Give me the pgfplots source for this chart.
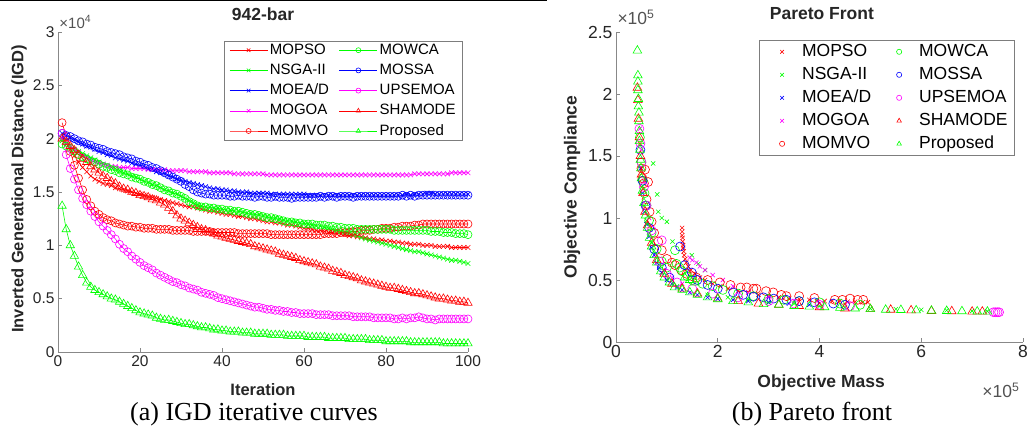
\documentclass[border=0pt]{standalone}
\usepackage{pgfplots}
\pgfplotsset{compat=1.18}
\usepackage{pgfplotstable}
\usepackage{fontspec}
\setmainfont{Liberation Sans}
\newfontfamily\capfont{Liberation Serif}

\definecolor{axgray}{rgb}{0.15,0.15,0.15}
\definecolor{cr}{rgb}{1,0,0}
\definecolor{cg}{rgb}{0,1,0}
\definecolor{cb}{rgb}{0,0,1}
\definecolor{cm}{rgb}{1,0,1}

% IGD (x 10^4) per iteration
\pgfplotstableread{
it  mopso nsga moead mogoa momvo mowca mossa upsemoa shamode prop
1   2.00 1.98 2.05 2.00 2.15 1.95 2.05 2.05 2.00 1.37
2   1.95 1.95 2.03 1.96 2.02 1.93 2.03 1.85 1.97 1.15
3   1.90 1.93 2.01 1.93 1.88 1.91 2.02 1.72 1.93 1.00
4   1.84 1.90 1.99 1.90 1.75 1.88 2.00 1.62 1.89 0.90
5   1.78 1.88 1.97 1.87 1.63 1.85 1.98 1.52 1.85 0.80
6   1.73 1.86 1.95 1.84 1.52 1.83 1.97 1.44 1.81 0.72
7   1.69 1.84 1.93 1.82 1.43 1.81 1.95 1.38 1.78 0.65
8   1.65 1.82 1.92 1.80 1.37 1.79 1.94 1.32 1.74 0.61
9   1.62 1.80 1.90 1.78 1.32 1.78 1.92 1.27 1.71 0.58
10  1.60 1.78 1.88 1.77 1.29 1.76 1.91 1.22 1.68 0.56
11  1.58 1.76 1.87 1.76 1.26 1.74 1.90 1.18 1.65 0.54
12  1.57 1.75 1.85 1.75 1.24 1.73 1.88 1.14 1.63 0.52
13  1.56 1.73 1.84 1.74 1.23 1.71 1.87 1.10 1.60 0.50
14  1.54 1.72 1.82 1.74 1.21 1.70 1.86 1.06 1.58 0.49
15  1.53 1.70 1.81 1.73 1.20 1.68 1.85 1.01 1.55 0.47
16  1.52 1.68 1.80 1.73 1.19 1.67 1.83 0.97 1.53 0.45
17  1.51 1.67 1.79 1.73 1.18 1.66 1.82 0.94 1.52 0.43
18  1.50 1.65 1.77 1.72 1.18 1.64 1.81 0.90 1.50 0.41
19  1.49 1.64 1.76 1.72 1.17 1.63 1.79 0.87 1.49 0.39
20  1.48 1.62 1.75 1.72 1.17 1.62 1.78 0.84 1.47 0.37
21  1.47 1.60 1.74 1.72 1.16 1.60 1.76 0.81 1.46 0.36
22  1.46 1.59 1.72 1.71 1.16 1.59 1.75 0.79 1.45 0.35
23  1.45 1.57 1.71 1.71 1.16 1.57 1.73 0.77 1.43 0.34
24  1.44 1.56 1.69 1.71 1.15 1.56 1.72 0.74 1.42 0.32
25  1.43 1.54 1.68 1.71 1.15 1.54 1.70 0.72 1.40 0.31
26  1.42 1.52 1.67 1.71 1.15 1.52 1.68 0.70 1.38 0.30
27  1.41 1.51 1.65 1.70 1.15 1.51 1.66 0.68 1.35 0.30
28  1.40 1.49 1.64 1.70 1.14 1.49 1.64 0.66 1.32 0.29
29  1.39 1.48 1.62 1.70 1.14 1.48 1.62 0.65 1.28 0.28
30  1.38 1.46 1.61 1.70 1.14 1.46 1.60 0.63 1.25 0.27
31  1.37 1.44 1.60 1.70 1.14 1.44 1.57 0.62 1.23 0.26
32  1.36 1.42 1.59 1.69 1.14 1.41 1.55 0.60 1.21 0.26
33  1.36 1.40 1.58 1.69 1.13 1.39 1.52 0.59 1.19 0.25
34  1.35 1.38 1.57 1.69 1.13 1.37 1.50 0.58 1.17 0.24
35  1.34 1.37 1.56 1.69 1.13 1.36 1.49 0.56 1.15 0.23
36  1.33 1.36 1.55 1.69 1.13 1.36 1.48 0.55 1.14 0.23
37  1.32 1.36 1.54 1.68 1.13 1.35 1.48 0.54 1.12 0.22
38  1.32 1.35 1.53 1.68 1.12 1.35 1.47 0.53 1.11 0.21
39  1.31 1.35 1.53 1.68 1.12 1.34 1.47 0.51 1.09 0.21
40  1.30 1.34 1.52 1.68 1.12 1.34 1.47 0.50 1.08 0.20
41  1.29 1.33 1.52 1.68 1.12 1.33 1.47 0.49 1.07 0.20
42  1.29 1.33 1.51 1.68 1.12 1.33 1.46 0.48 1.06 0.19
43  1.28 1.32 1.51 1.67 1.12 1.32 1.46 0.47 1.05 0.19
44  1.27 1.32 1.50 1.67 1.11 1.32 1.47 0.46 1.04 0.19
45  1.27 1.31 1.50 1.67 1.11 1.31 1.46 0.45 1.03 0.18
46  1.26 1.30 1.50 1.67 1.11 1.30 1.46 0.44 1.02 0.18
47  1.25 1.30 1.49 1.67 1.11 1.29 1.46 0.43 1.01 0.18
48  1.25 1.29 1.49 1.67 1.11 1.29 1.45 0.42 0.99 0.17
49  1.24 1.29 1.49 1.67 1.11 1.28 1.46 0.42 0.98 0.17
50  1.23 1.28 1.49 1.67 1.11 1.27 1.46 0.41 0.97 0.17
51  1.22 1.27 1.49 1.66 1.11 1.26 1.45 0.40 0.96 0.17
52  1.22 1.26 1.48 1.66 1.10 1.26 1.45 0.40 0.95 0.16
53  1.21 1.26 1.48 1.66 1.10 1.25 1.46 0.39 0.94 0.16
54  1.21 1.25 1.48 1.66 1.10 1.24 1.45 0.39 0.92 0.16
55  1.20 1.24 1.48 1.66 1.10 1.23 1.45 0.38 0.91 0.16
56  1.19 1.23 1.48 1.66 1.10 1.22 1.45 0.38 0.90 0.15
57  1.19 1.23 1.48 1.66 1.10 1.22 1.44 0.37 0.89 0.15
58  1.18 1.22 1.48 1.66 1.10 1.21 1.45 0.37 0.88 0.15
59  1.17 1.21 1.48 1.66 1.10 1.21 1.45 0.36 0.86 0.15
60  1.16 1.21 1.48 1.66 1.10 1.20 1.45 0.36 0.85 0.15
61  1.16 1.20 1.47 1.66 1.10 1.20 1.45 0.36 0.84 0.14
62  1.15 1.19 1.47 1.66 1.10 1.20 1.45 0.36 0.83 0.14
63  1.14 1.18 1.47 1.66 1.10 1.19 1.45 0.35 0.82 0.14
64  1.14 1.18 1.47 1.66 1.10 1.19 1.46 0.35 0.80 0.14
65  1.13 1.17 1.47 1.66 1.11 1.19 1.45 0.35 0.79 0.14
66  1.12 1.16 1.47 1.66 1.11 1.18 1.46 0.35 0.78 0.13
67  1.12 1.15 1.47 1.66 1.11 1.18 1.46 0.34 0.76 0.13
68  1.11 1.14 1.47 1.66 1.11 1.17 1.45 0.34 0.75 0.13
69  1.11 1.13 1.47 1.66 1.12 1.17 1.46 0.34 0.74 0.13
70  1.10 1.12 1.47 1.66 1.12 1.16 1.46 0.34 0.72 0.13
71  1.09 1.11 1.47 1.66 1.12 1.16 1.46 0.34 0.71 0.12
72  1.09 1.10 1.47 1.66 1.13 1.16 1.45 0.33 0.70 0.12
73  1.08 1.09 1.47 1.66 1.13 1.15 1.46 0.33 0.69 0.12
74  1.08 1.07 1.47 1.66 1.14 1.15 1.46 0.33 0.67 0.12
75  1.07 1.06 1.47 1.66 1.14 1.15 1.46 0.33 0.66 0.12
76  1.06 1.05 1.47 1.66 1.14 1.15 1.46 0.33 0.65 0.11
77  1.06 1.04 1.47 1.66 1.15 1.15 1.46 0.32 0.64 0.11
78  1.05 1.03 1.47 1.66 1.15 1.15 1.46 0.32 0.63 0.11
79  1.05 1.02 1.47 1.66 1.16 1.15 1.46 0.32 0.62 0.11
80  1.04 1.01 1.47 1.66 1.16 1.15 1.46 0.32 0.61 0.10
81  1.04 1.00 1.47 1.66 1.16 1.15 1.46 0.32 0.60 0.10
82  1.03 0.99 1.47 1.66 1.17 1.14 1.46 0.31 0.60 0.10
83  1.03 0.98 1.47 1.66 1.17 1.14 1.46 0.31 0.59 0.10
84  1.02 0.97 1.47 1.66 1.18 1.14 1.47 0.32 0.58 0.10
85  1.02 0.96 1.48 1.66 1.18 1.14 1.46 0.31 0.57 0.10
86  1.01 0.95 1.47 1.66 1.18 1.14 1.47 0.32 0.56 0.09
87  1.01 0.94 1.48 1.67 1.19 1.14 1.46 0.32 0.55 0.09
88  1.01 0.94 1.48 1.67 1.19 1.14 1.47 0.33 0.55 0.09
89  1.00 0.93 1.48 1.67 1.20 1.14 1.47 0.32 0.54 0.09
90  1.00 0.92 1.49 1.67 1.20 1.14 1.47 0.31 0.53 0.09
91  1.00 0.91 1.49 1.67 1.20 1.13 1.47 0.31 0.52 0.09
92  0.99 0.90 1.48 1.67 1.20 1.13 1.47 0.30 0.51 0.09
93  0.99 0.89 1.48 1.67 1.20 1.13 1.47 0.31 0.50 0.09
94  0.99 0.88 1.48 1.67 1.20 1.12 1.47 0.31 0.50 0.08
95  0.99 0.87 1.48 1.67 1.20 1.12 1.47 0.31 0.49 0.08
96  0.98 0.86 1.48 1.68 1.20 1.12 1.47 0.31 0.48 0.08
97  0.98 0.86 1.48 1.68 1.20 1.11 1.47 0.31 0.48 0.08
98  0.98 0.85 1.48 1.68 1.20 1.11 1.47 0.31 0.47 0.08
99  0.98 0.84 1.48 1.68 1.20 1.11 1.47 0.31 0.47 0.08
100 0.98 0.83 1.48 1.68 1.20 1.10 1.47 0.31 0.46 0.08
}\igd

\pgfplotsset{
  mx/.style={mark=x, mark size=3.3pt},
  mo/.style={mark=o, mark size=4pt},
  mt/.style={mark=triangle, mark size=4.8pt},
  common/.style={
    scale only axis,
    axis lines*=left,
    axis line style={-, axgray!55, line width=0.7pt},
    tick align=inside, major tick length=4pt,
    tick style={axgray!55, line width=0.7pt},
    /pgf/number format/assume math mode=true,
    clip=false,
    every axis plot/.append style={line width=0.6pt},
    title style={anchor=center, text=axgray, font=\fontsize{17.5}{20}\selectfont\bfseries},
    legend cell align=left,
  },
}

\begin{document}
\begin{tikzpicture}
\useasboundingbox (0,0) rectangle (1032pt,427pt);

% ---------- (a) IGD curves ----------
\begin{axis}[common,
  at={(58pt,75pt)}, anchor=south west,
  width=410pt, height=320pt,
  xmin=0, xmax=100, ymin=0, ymax=3,
  xtick={0,20,40,60,80,100}, ytick={0,0.5,1,1.5,2,2.5,3},
  ticklabel style={font=\fontsize{15.5}{18}\selectfont, text=axgray},
  title={942-bar}, title style={at={(axis description cs:0.5,1.0375)}},
  xlabel={Iteration}, ylabel={Inverted Generational Distance (IGD)},
  label style={font=\fontsize{16.5}{19}\selectfont\bfseries, text=axgray},
  xlabel style={at={(axis description cs:0.5,-0.119)}, anchor=center},
  ylabel style={at={(axis description cs:-0.095,0.51)}, anchor=center},
  legend columns=2,
  legend style={at={(axis description cs:0.405,0.972)}, anchor=north west,
    draw=axgray!60, line width=0.5pt, inner xsep=5pt, inner ysep=1pt,
    font=\fontsize{15}{17}\selectfont,
    nodes={inner xsep=2pt, inner ysep=1pt, text height=11pt, text depth=3pt},
    row sep=4.2pt,
    /tikz/every even column/.append style={column sep=8pt}},
  legend image code/.code={\draw[mark repeat=2,mark phase=2,#1,mark size=2.5pt]
    plot coordinates {(0pt,0pt) (19pt,0pt) (38pt,0pt)};},
]
\addplot[forget plot, color=cr, mx] table[x=it, y=mopso] {\igd};
\addplot[forget plot, color=cg, mx] table[x=it, y=nsga] {\igd};
\addplot[forget plot, color=cb, mx] table[x=it, y=moead] {\igd};
\addplot[forget plot, color=cm, mx] table[x=it, y=mogoa] {\igd};
\addplot[forget plot, color=cr, mo] table[x=it, y=momvo] {\igd};
\addplot[forget plot, color=cg, mo] table[x=it, y=mowca] {\igd};
\addplot[forget plot, color=cb, mo] table[x=it, y=mossa] {\igd};
\addplot[forget plot, color=cm, mo] table[x=it, y=upsemoa] {\igd};
\addplot[forget plot, color=cr, mt] table[x=it, y=shamode] {\igd};
\addplot[forget plot, color=cg, mt] table[x=it, y=prop] {\igd};
% legend, filled row by row
\addlegendimage{color=cr, mx}\addlegendentry{MOPSO}
\addlegendimage{color=cg, mo}\addlegendentry{MOWCA}
\addlegendimage{color=cg, mx}\addlegendentry{NSGA-II}
\addlegendimage{color=cb, mo}\addlegendentry{MOSSA}
\addlegendimage{color=cb, mx}\addlegendentry{MOEA/D}
\addlegendimage{color=cm, mo}\addlegendentry{UPSEMOA}
\addlegendimage{color=cm, mx}\addlegendentry{MOGOA}
\addlegendimage{color=cr, mt}\addlegendentry{SHAMODE}
\addlegendimage{color=cr, mo}\addlegendentry{MOMVO}
\addlegendimage{color=cg, mt}\addlegendentry{Proposed}
\node[anchor=west, text=axgray!80, font=\fontsize{15}{17}\selectfont]
  at (axis description cs:-0.005,1.031) {×10\textsuperscript{4}};
\end{axis}

% ---------- (b) Pareto front ----------
\begin{axis}[common,
  at={(616pt,85pt)}, anchor=south west,
  width=407pt, height=310pt,
  xmin=0, xmax=8, ymin=0, ymax=2.5,
  xtick={0,2,4,6,8}, ytick={0,0.5,1,1.5,2,2.5},
  ticklabel style={font=\fontsize{17.5}{20}\selectfont, text=axgray},
  title={Pareto Front}, title style={at={(axis description cs:0.506,1.039)}},
  xlabel={Objective Mass}, ylabel={Objective Compliance},
  label style={font=\fontsize{17.5}{20}\selectfont\bfseries, text=axgray},
  xlabel style={at={(axis description cs:0.504,-0.132)}, anchor=center},
  ylabel style={at={(axis description cs:-0.108,0.5)}, anchor=center},
  legend columns=2,
  legend style={at={(axis description cs:0.351,0.974)}, anchor=north west,
    draw=axgray!60, line width=0.5pt, inner xsep=5pt, inner ysep=2pt,
    font=\fontsize{17.5}{20}\selectfont,
    nodes={inner xsep=2pt, inner ysep=1pt, text height=13pt, text depth=4pt},
    row sep=4pt,
    /tikz/every even column/.append style={column sep=8pt}},
  % marks only: one mark in the middle, two bare points keep the cell width
  legend image code/.code={\path[draw=none] (0pt,0pt) (36pt,0pt);
    \draw[#1,mark size=2.6pt] plot coordinates {(18pt,0pt)};},
  mx/.style={mark=x, mark size=3pt},
  mo/.style={mark=o, mark size=4.5pt},
  mt/.style={mark=triangle, mark size=5pt},
]
% MOPSO
\addplot[forget plot, only marks, color=cr, mx] coordinates {
(0.47,1.60) (0.50,1.40) (1.30,0.92) (1.30,0.89) (1.30,0.86) (1.31,0.84) (1.31,0.81)
(1.32,0.78) (1.32,0.76) (1.33,0.73) (1.34,0.70) (1.36,0.67) (1.38,0.64) (1.42,0.61)
(1.47,0.58) (1.55,0.55) (1.65,0.52) (1.75,0.50) (1.90,0.47) (2.05,0.45) (2.20,0.43)
(2.40,0.41) (2.60,0.40) (2.80,0.38) (3.00,0.37) (3.20,0.36) (3.40,0.35) (3.60,0.345)
(3.80,0.34) (3.95,0.33) (4.10,0.33) (4.25,0.33) (4.40,0.33) (4.55,0.325) (4.70,0.325)
(4.85,0.32) (4.95,0.32)};
% NSGA-II
\addplot[forget plot, only marks, color=cg, mx] coordinates {
(0.50,1.25) (0.55,1.10) (0.60,0.98) (0.70,0.80) (0.73,1.44) (0.81,1.19) (0.83,1.05)
(0.90,1.00) (1.00,0.97) (1.11,0.81) (1.20,0.45) (1.49,0.70) (1.62,0.63) (1.75,0.58)
(1.80,0.38) (2.20,0.36) (2.60,0.34) (3.00,0.32) (3.50,0.31) (4.00,0.29) (4.50,0.28)
(5.00,0.27) (5.50,0.265) (6.00,0.26) (6.50,0.255) (7.00,0.25) (7.30,0.248)};
% MOEA/D
\addplot[forget plot, only marks, color=cb, mx] coordinates {
(0.48,1.40) (0.52,1.20) (0.56,1.05) (0.60,0.95) (0.65,0.85) (0.70,0.76) (0.75,0.70)
(0.80,0.64) (0.85,0.60) (0.90,0.56) (1.00,0.50) (1.10,0.47) (1.20,0.44) (1.30,0.42)
(1.45,0.40) (1.60,0.38) (1.80,0.36) (2.00,0.35) (2.30,0.34) (2.60,0.33) (3.00,0.32)
(3.40,0.31) (3.80,0.30)};
% MOGOA
\addplot[forget plot, only marks, color=cm, mx] coordinates {
(0.47,1.72) (0.50,1.55) (0.55,1.30) (0.65,1.00) (0.80,0.70) (0.95,0.58) (1.10,0.52)
(1.30,0.47) (1.45,0.68) (1.50,0.66) (1.58,0.64) (1.65,0.61) (1.75,0.58) (1.90,0.54)
(2.10,0.50) (2.30,0.45) (2.60,0.40) (3.00,0.36) (3.50,0.33) (4.00,0.31)};
% MOMVO
\addplot[forget plot, only marks, color=cr, mo] coordinates {
(0.50,1.40) (0.52,1.32) (0.55,1.28) (0.57,1.39) (0.60,1.15) (0.63,1.29) (0.66,1.05)
(0.70,0.97) (0.75,0.88) (0.83,0.81) (0.90,0.74) (1.00,0.67) (1.10,0.64) (1.16,0.62)
(1.28,0.58) (1.39,0.55) (1.50,0.53) (1.58,0.52) (1.80,0.50) (2.04,0.48) (2.25,0.46)
(2.45,0.44) (2.57,0.44) (2.70,0.43) (2.76,0.43) (2.95,0.41) (3.09,0.40) (3.25,0.38)
(3.35,0.37) (3.60,0.37) (3.90,0.355) (4.30,0.34) (4.45,0.34) (4.60,0.35) (4.75,0.34)
(4.86,0.34)};
% MOWCA
\addplot[forget plot, only marks, color=cg, mo] coordinates {
(0.47,1.65) (0.50,1.45) (0.53,1.30) (0.56,1.20) (0.60,1.10) (0.65,0.98) (0.70,0.88)
(0.80,0.75) (0.90,0.65) (1.00,0.60) (1.16,0.74) (1.19,0.63) (1.25,0.60) (1.30,0.57)
(1.40,0.53) (1.50,0.50) (1.70,0.47) (1.90,0.45) (2.10,0.42) (2.40,0.39) (2.70,0.37)
(3.00,0.35) (3.30,0.34) (3.60,0.33) (4.00,0.32) (4.40,0.31) (4.80,0.30)};
% MOSSA
\addplot[forget plot, only marks, color=cb, mo] coordinates {
(0.48,1.55) (0.52,1.30) (0.58,1.10) (0.65,0.92) (0.75,0.75) (0.90,0.60) (1.05,0.52)
(1.26,0.77) (1.35,0.62) (1.49,0.56) (1.60,0.50) (1.80,0.46) (2.00,0.43) (2.30,0.40)
(2.50,0.38) (2.70,0.365) (2.90,0.36) (3.10,0.35) (3.35,0.34) (3.60,0.33) (3.90,0.32)
(4.27,0.31) (4.50,0.30)};
% UPSEMOA
\addplot[forget plot, only marks, color=cm, mo] coordinates {
(0.46,1.72) (0.48,1.60) (0.50,1.45) (0.55,1.25) (0.60,1.10) (0.70,0.90) (0.90,0.82)
(0.85,0.65) (1.00,0.55) (1.20,0.48) (1.50,0.43) (1.90,0.39) (2.40,0.36) (3.00,0.33)
(3.50,0.31) (4.00,0.30) (4.60,0.29) (7.42,0.24) (7.46,0.24) (7.50,0.24) (7.53,0.24)};
% SHAMODE
\addplot[forget plot, only marks, color=cr, mt] coordinates {
(0.42,2.05) (0.43,1.95) (0.44,1.80) (0.46,1.65) (0.48,1.50) (0.50,1.35) (0.53,1.20)
(0.57,1.05) (0.62,0.94) (0.70,0.80) (0.80,0.66) (0.95,0.55) (1.10,0.47) (1.30,0.43)
(1.60,0.39) (2.00,0.35) (2.40,0.33) (2.80,0.31) (3.20,0.30) (3.60,0.29) (4.00,0.28)
(4.50,0.27) (5.00,0.265) (5.40,0.26) (5.80,0.255) (6.20,0.25) (6.60,0.248) (7.00,0.245)
(7.20,0.245)};
% Proposed
\addplot[forget plot, only marks, color=cg, mt] coordinates {
(0.42,2.35) (0.43,2.15) (0.43,2.10) (0.43,2.03) (0.44,1.96) (0.44,1.90) (0.45,1.85)
(0.45,1.78) (0.46,1.70) (0.46,1.62) (0.47,1.55) (0.48,1.47) (0.49,1.40) (0.50,1.32)
(0.52,1.22) (0.55,1.12) (0.58,1.02) (0.62,0.92) (0.66,0.84) (0.70,0.77) (0.75,0.70)
(0.80,0.64) (0.88,0.57) (0.95,0.52) (1.05,0.48) (1.15,0.44) (1.30,0.42) (1.35,0.52)
(1.45,0.50) (1.45,0.40) (1.55,0.48) (1.60,0.38) (1.80,0.36) (2.00,0.345) (2.30,0.33)
(2.60,0.32) (2.90,0.305) (3.20,0.30) (3.50,0.29) (3.80,0.285) (4.10,0.28) (4.40,0.275)
(4.70,0.27) (5.00,0.265) (5.30,0.26) (5.60,0.258) (5.90,0.255) (6.20,0.252) (6.50,0.25)
(6.80,0.248) (7.10,0.246) (7.30,0.245)};
% legend, filled row by row
\addlegendimage{color=cr, mx}\addlegendentry{MOPSO}
\addlegendimage{color=cg, mo}\addlegendentry{MOWCA}
\addlegendimage{color=cg, mx}\addlegendentry{NSGA-II}
\addlegendimage{color=cb, mo}\addlegendentry{MOSSA}
\addlegendimage{color=cb, mx}\addlegendentry{MOEA/D}
\addlegendimage{color=cm, mo}\addlegendentry{UPSEMOA}
\addlegendimage{color=cm, mx}\addlegendentry{MOGOA}
\addlegendimage{color=cr, mt}\addlegendentry{SHAMODE}
\addlegendimage{color=cr, mo}\addlegendentry{MOMVO}
\addlegendimage{color=cg, mt}\addlegendentry{Proposed}
\node[anchor=west, text=axgray!80, font=\fontsize{17.5}{20}\selectfont]
  at (axis description cs:-0.005,1.048) {×10\textsuperscript{5}};
\node[anchor=east, text=axgray!80, font=\fontsize{17.5}{20}\selectfont]
  at (axis description cs:1.0,-0.155) {×10\textsuperscript{5}};
\end{axis}

% captions and the rule along the top
\draw[line width=1.5pt] (0pt,426.5pt) -- (547pt,426.5pt);
\node[anchor=base, font=\capfont\fontsize{26}{30}\selectfont] at (254pt,6.3pt) {(a) IGD iterative curves};
\node[anchor=base, font=\capfont\fontsize{26}{30}\selectfont] at (812pt,6.3pt) {(b) Pareto front};
\end{tikzpicture}
\end{document}
